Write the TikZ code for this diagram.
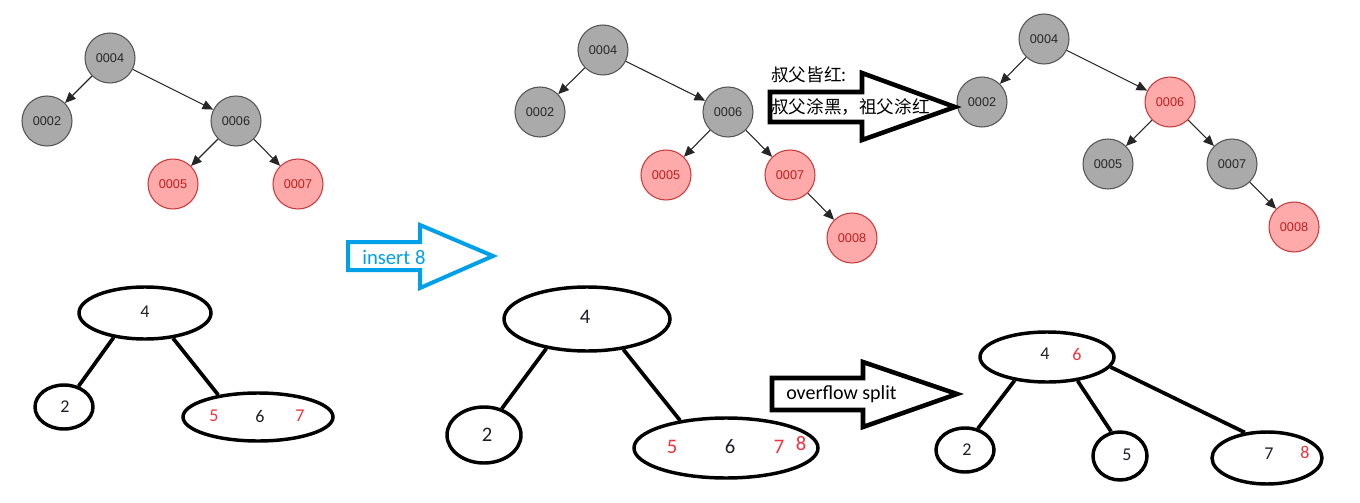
\documentclass[tikz,border=0pt]{standalone}
\usepackage{fontspec}
\setmainfont{Liberation Sans}
\newfontfamily\cjkfont{Noto Sans CJK SC}
\newfontfamily\calfont{Carlito}
\usetikzlibrary{arrows.meta,shapes.geometric}
\definecolor{rbgfill}{RGB}{170,170,170}
\definecolor{rbgline}{RGB}{85,85,85}
\definecolor{rbgtext}{RGB}{40,40,40}
\definecolor{rbrfill}{RGB}{255,170,170}
\definecolor{rbrline}{RGB}{200,60,60}
\definecolor{rbrtext}{RGB}{190,30,30}
\definecolor{insblue}{RGB}{0,160,233}
\definecolor{digred}{RGB}{240,50,60}
\definecolor{digblk}{RGB}{30,30,40}
\begin{document}
\begin{tikzpicture}[x=0.75pt,y=-0.75pt,
  rbg/.style={circle,draw=rbgline,fill=rbgfill,minimum size=37.5pt,inner sep=0pt,line width=0.8pt,font=\fontsize{9.5}{10}\selectfont,text=rbgtext},
  rbr/.style={rbg,draw=rbrline,fill=rbrfill,text=rbrtext},
  rbe/.style={-{Triangle[length=8pt,width=7pt]},line width=0.8pt,draw=black!85},
  bnode/.style={ellipse,draw=black,line width=2.6pt,inner sep=0pt},
  bedge/.style={line width=2.8pt},
  dsmall/.style={inner sep=0pt,font=\calfont\fontsize{13.5}{14}\selectfont,text=digblk},
  dbig/.style={inner sep=0pt,font=\calfont\fontsize{15.5}{16}\selectfont,text=digblk},
  bigarrow/.style={line width=3.4pt,line join=miter,fill=white},
  lbl/.style={inner sep=0pt,font=\calfont\fontsize{15}{16}\selectfont},
  cjklbl/.style={anchor=west,inner sep=0pt,font=\cjkfont\fontsize{13.2}{14}\selectfont}
]
\useasboundingbox (0,0) rectangle (1360,503);

% ---------- Red-black tree 1 ----------
\node[rbg] (a4) at (110,58) {0004};
\node[rbg] (a2) at (47,121) {0002};
\node[rbg] (a6) at (236,121) {0006};
\node[rbr] (a5) at (173,184) {0005};
\node[rbr] (a7) at (298,184) {0007};
\draw[rbe] (a4) -- (a2);
\draw[rbe] (a4) -- (a6);
\draw[rbe] (a6) -- (a5);
\draw[rbe] (a6) -- (a7);

% ---------- Red-black tree 2 ----------
\node[rbg] (b4) at (603,50) {0004};
\node[rbg] (b2) at (540,112) {0002};
\node[rbg] (b6) at (728,112) {0006};
\node[rbr] (b5) at (666,175) {0005};
\node[rbr] (b7) at (790,175) {0007};
\node[rbr] (b8) at (852,238) {0008};
\draw[rbe] (b4) -- (b2);
\draw[rbe] (b4) -- (b6);
\draw[rbe] (b6) -- (b5);
\draw[rbe] (b6) -- (b7);
\draw[rbe] (b7) -- (b8);

% ---------- Red-black tree 3 ----------
\node[rbg] (c4) at (1044,39) {0004};
\node[rbg] (c2) at (982,102) {0002};
\node[rbr] (c6) at (1170,102) {0006};
\node[rbg] (c5) at (1108,164) {0005};
\node[rbg] (c7) at (1232,164) {0007};
\node[rbr] (c8) at (1294,227) {0008};
\draw[rbe] (c4) -- (c2);
\draw[rbe] (c4) -- (c6);
\draw[rbe] (c6) -- (c5);
\draw[rbe] (c6) -- (c7);
\draw[rbe] (c7) -- (c8);

% ---------- arrow: uncles red ----------
\draw[bigarrow] (770,92) -- (862,92) -- (862,73) -- (955,107) -- (862,140) -- (862,122) -- (770,122) -- cycle;
\node[cjklbl] (t1) at (771,75) {叔父皆红:};
\node[cjklbl] (t2) at (771,107) {叔父涂黑，祖父涂红};

% ---------- arrow: insert 8 ----------
\draw[bigarrow,draw=insblue,line width=3pt] (348,242) -- (420,242) -- (420,225) -- (493,256) -- (420,288) -- (420,270) -- (348,270) -- cycle;
\node[lbl,anchor=west,text=insblue,font=\calfont\fontsize{15.5}{16}\selectfont] (t3) at (362,257) {insert 8};

% ---------- arrow: overflow split ----------
\draw[bigarrow] (772,378) -- (863,378) -- (863,362) -- (957,394) -- (863,427) -- (863,410) -- (772,410) -- cycle;
\node[lbl,anchor=west,text=black] (t4) at (786,394) {overflow split};

% ---------- B-tree 1 ----------
\node[bnode,minimum width=99pt,minimum height=39pt] (p4) at (145,313) {};
\node[bnode,minimum width=43.5pt,minimum height=33pt] (p2) at (64,407) {};
\node[bnode,minimum width=112.5pt,minimum height=36pt] (p567) at (258,417) {};
\draw[bedge] (p4.218) -- (p2.55);
\draw[bedge] (p4.318) -- (p567.151);
\node[dsmall] (p4t) at (145,312) {4};
\node[dsmall] (p2t) at (65,407) {2};
\node[dsmall,text=digred] (p5t) at (214,416) {5};
\node[dsmall] (p6t) at (260,416) {6};
\node[dsmall,text=digred] (p7t) at (300,416) {7};

% ---------- B-tree 2 ----------
\node[bnode,minimum width=124.5pt,minimum height=48pt] (q4) at (587,319) {};
\node[bnode,minimum width=55.5pt,minimum height=42pt] (q2) at (484,435) {};
\node[bnode,minimum width=138pt,minimum height=45pt] (q5678) at (726,448) {};
\draw[bedge] (q4.216) -- (q2.56);
\draw[bedge] (q4.320) -- (q5678.149);
\node[dbig] (q4t) at (585,317) {4};
\node[dbig] (q2t) at (487,435) {2};
\node[dbig,text=digred] (q5t) at (672,447) {5};
\node[dbig] (q6t) at (730,447) {6};
\node[dbig,text=digred] (q7t) at (779,447) {7};
\node[dbig,text=digred] (q8t) at (801,444) {8};

% ---------- B-tree 3 ----------
\node[bnode,minimum width=100.5pt,minimum height=37.5pt] (r46) at (1047,357) {};
\node[bnode,minimum width=43.5pt,minimum height=33pt] (r2) at (965,450) {};
\node[bnode,minimum width=40.5pt,minimum height=36pt] (r5) at (1120,456) {};
\node[bnode,minimum width=82.5pt,minimum height=39pt] (r78) at (1267,458) {};
\draw[bedge] (r46.216) -- (r2.59);
\draw[bedge] (r46.322) -- (r5.110);
\draw[bedge] (r46.351) -- (r78.131);
\node[dsmall] (r4t) at (1045,354) {4};
\node[dsmall,text=digred] (r6t) at (1077,354) {6};
\node[dsmall] (r2t) at (967,450) {2};
\node[dsmall] (r5t) at (1127,455) {5};
\node[dsmall] (r7t) at (1269,454) {7};
\node[dsmall,text=digred] (r8t) at (1305,452) {8};
\end{tikzpicture}
\end{document}
